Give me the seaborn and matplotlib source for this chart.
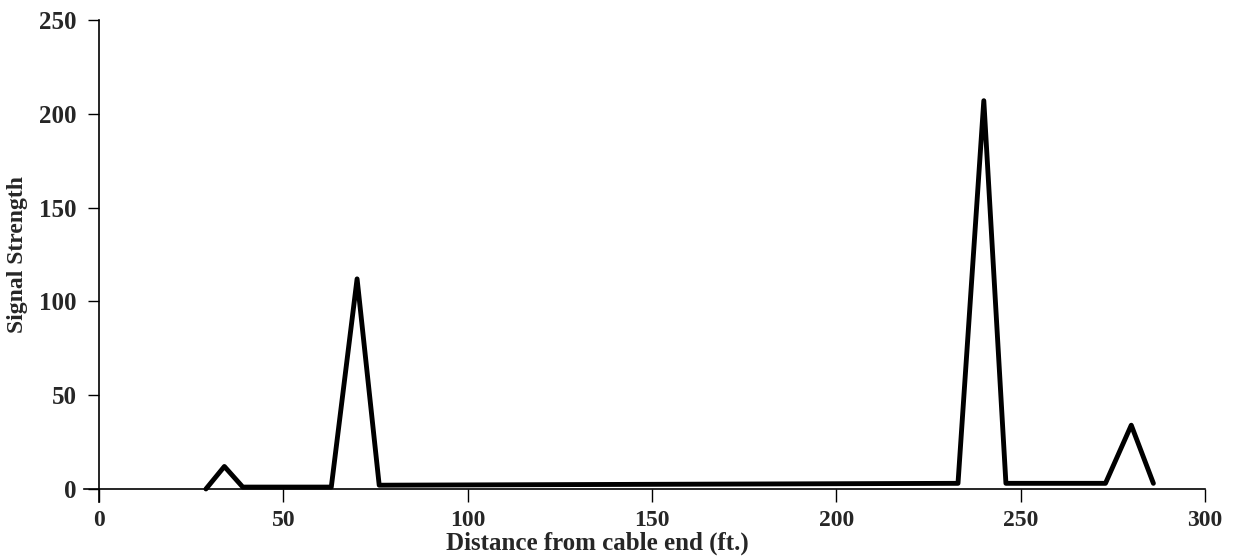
import matplotlib

matplotlib.use("Agg")

import matplotlib.pyplot as plt
import pandas as pd
import seaborn as sns

# signal trace
distance_ft = [29, 34, 39, 63, 70, 76, 233, 240, 246, 273, 280, 286]
signal = [0, 12, 1, 1, 112, 2, 3, 207, 3, 3, 34, 3]

x_ticks = [0, 50, 100, 150, 200, 250, 300]
y_ticks = [0, 50, 100, 150, 200, 250]

sns.set_theme(style="white")
plt.rcParams["font.family"] = ["Liberation Serif", "DejaVu Serif"]
plt.rcParams["font.weight"] = "bold"

df = pd.DataFrame({"distance": distance_ft, "signal": signal})

fig = plt.figure(figsize=(12.34, 5.59), dpi=100)
ax = fig.add_axes([0.0683, 0.1018, 0.9082, 0.8624])

sns.lineplot(data=df, x="distance", y="signal", color="black", linewidth=3.5,
             sort=False, ax=ax)

ax.set_xlim(-4, 300)
ax.set_ylim(-7, 250)
ax.set_xticks(x_ticks)
ax.set_yticks(y_ticks)

for side in ["top", "right"]:
    ax.spines[side].set_visible(False)
ax.spines["left"].set_position(("data", 0))
ax.spines["bottom"].set_position(("data", 0))
for side in ["left", "bottom"]:
    ax.spines[side].set_color("black")
    ax.spines[side].set_linewidth(1.2)

ax.tick_params(axis="x", direction="out", length=9, width=1, color="black",
               labelsize=17, pad=6)
ax.tick_params(axis="y", direction="out", length=8, width=1, color="black",
               labelsize=18, pad=8)
ax.tick_params(left=True, bottom=True)

ax.set_xlabel("Distance from cable end (ft.)", fontsize=18, fontweight="bold")
ax.set_ylabel("Signal Strength", fontsize=17, fontweight="bold")
ax.xaxis.set_label_coords(0.4575, -0.062)
ax.yaxis.set_label_coords(-0.05, 0.513)

fig.savefig("out.png", dpi=100)
plt.close(fig)
